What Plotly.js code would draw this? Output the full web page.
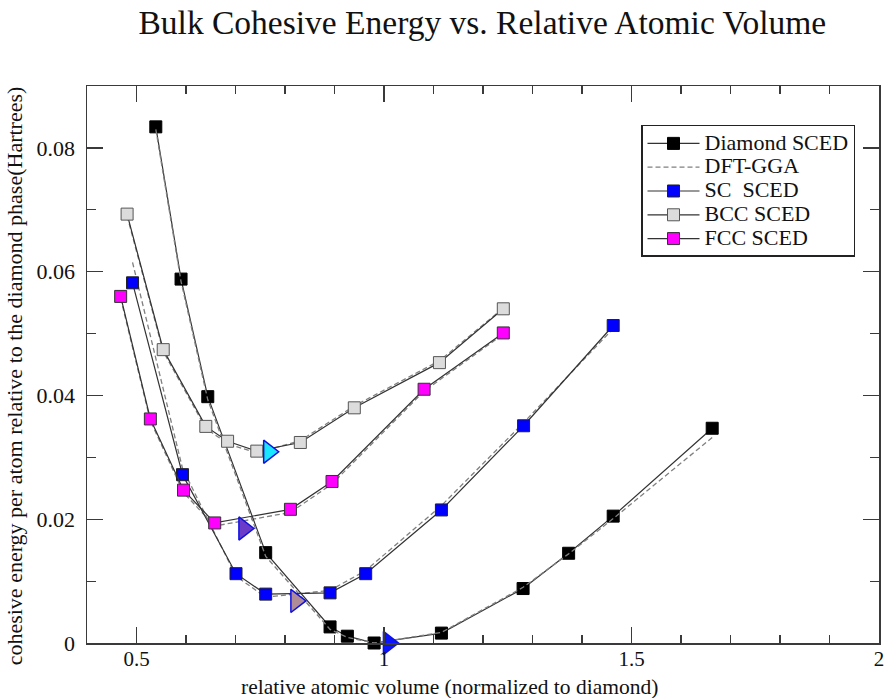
<!DOCTYPE html>
<html>
<head>
<meta charset="utf-8">
<script src="https://cdn.plot.ly/plotly-3.0.1.min.js"></script>
<style>html,body{margin:0;padding:0;background:#fff;}#chart{width:885px;height:698px;}</style>
</head>
<body>
<div id="chart"></div>
<script>
// ---- data ----
const diamondX = [0.539, 0.590, 0.644, 0.761, 0.891, 0.926, 0.980, 1.116, 1.281, 1.373, 1.463, 1.663];
const diamondY = [0.0834, 0.0588, 0.0398, 0.0146, 0.0026, 0.0011, 0.0000, 0.0016, 0.0088, 0.0145, 0.0205, 0.0347];
const diamondDftY = [0.0830, 0.0584, 0.0393, 0.0140, 0.0022, 0.0009, 0.0000, 0.0017, 0.0090, 0.0144, 0.0201, 0.0332];

const scX = [0.492, 0.593, 0.701, 0.761, 0.891, 0.963, 1.116, 1.282, 1.463];
const scY = [0.0582, 0.0272, 0.0112, 0.0079, 0.0081, 0.0112, 0.0215, 0.0351, 0.0513];
const scDftY = [0.0615, 0.0282, 0.0108, 0.0074, 0.0085, 0.0117, 0.0222, 0.0356, 0.0508];

const bccX = [0.481, 0.554, 0.640, 0.684, 0.743, 0.831, 0.940, 1.112, 1.241];
const bccY = [0.0693, 0.0474, 0.0350, 0.0326, 0.0310, 0.0324, 0.0380, 0.0453, 0.0540];
const bccDftY = [0.0690, 0.0471, 0.0347, 0.0322, 0.0307, 0.0327, 0.0383, 0.0456, 0.0541];

const fccX = [0.468, 0.528, 0.595, 0.658, 0.811, 0.895, 1.081, 1.241];
const fccY = [0.0560, 0.0362, 0.0247, 0.0194, 0.0216, 0.0261, 0.0410, 0.0501];
const fccDftY = [0.0557, 0.0359, 0.0243, 0.0189, 0.0211, 0.0257, 0.0407, 0.0499];

// minimum markers (triangles)
const minX = [0.767, 0.717, 0.822, 1.009];
const minY = [0.0309, 0.0185, 0.0068, 0.0000];
const minColors = ['#19e6ff', '#6a3cc8', '#b08c98', '#0a14ff'];

const xTicks = [0.5, 1, 1.5, 2];
const xTickText = ['0.5', '1', '1.5', '2'];
const yTicks = [0, 0.02, 0.04, 0.06, 0.08];
const yTickText = ['0', '0.02', '0.04', '0.06', '0.08'];

const SERIF = '"Liberation Serif", "Times New Roman", serif';
const lineCol = '#333333';
const dashCol = '#808080';

function lg(t) { return '<span style="font-size:22px">' + t + '</span>'; }

function sced(name, x, y, fill, border, legend) {
  return {
    type: 'scatter', mode: 'lines+markers', name: lg(name), x: x, y: y,
    line: {color: lineCol, width: 1.2},
    marker: {symbol: 'square', size: 12, color: fill, line: {color: border, width: 1}},
    showlegend: legend, cliponaxis: false
  };
}
function dft(x, y, legend) {
  return {
    type: 'scatter', mode: 'lines', name: lg('DFT-GGA'), x: x, y: y,
    line: {color: dashCol, width: 1.3, dash: '5px,3px'},
    showlegend: legend, cliponaxis: false
  };
}

const traces = [
  dft(scX, scDftY, false),
  dft(bccX, bccDftY, false),
  dft(fccX, fccDftY, false),
  sced('Diamond SCED', diamondX, diamondY, '#000000', '#000000', true),
  dft(diamondX, diamondDftY, true),
  sced('SC&nbsp; SCED', scX, scY, '#0000ff', '#222222', true),
  sced('BCC SCED', bccX, bccY, '#dcdcdc', '#555555', true),
  sced('FCC SCED', fccX, fccY, '#ff00ff', '#333333', true),
  {
    type: 'scatter', mode: 'markers', x: minX, y: minY, showlegend: false, cliponaxis: false,
    marker: {symbol: 'triangle-right', size: 20, color: minColors, line: {color: '#1010e0', width: 1.5}}
  }
];

const axisCommon = {
  showline: true, linecolor: '#3a3a3a', linewidth: 1.5, mirror: 'allticks',
  ticks: 'inside', ticklen: 16, tickwidth: 1.3, tickcolor: '#3a3a3a',
  showgrid: false, zeroline: false,
  tickfont: {family: SERIF, size: 22, color: '#111111'}
};

const layout = {
  width: 885, height: 698,
  paper_bgcolor: '#ffffff', plot_bgcolor: '#ffffff',
  margin: {l: 87, r: 6, t: 86, b: 55},
  title: {
    text: 'Bulk Cohesive Energy vs. Relative Atomic Volume',
    font: {family: SERIF, size: 33.5, color: '#111111'},
    x: 0.545, xanchor: 'center', y: 0.968, yanchor: 'middle'
  },
  xaxis: Object.assign({}, axisCommon, {
    range: [0.4, 2.0], tickvals: xTicks, ticktext: xTickText,
    tickfont: {family: SERIF, size: 21, color: '#111111'},
    ticklabelstandoff: -4,
    minor: {dtick: 0.1, tick0: 0.4, ticks: 'inside', ticklen: 8, tickwidth: 1.2, tickcolor: '#3a3a3a', showgrid: false}
  }),
  yaxis: Object.assign({}, axisCommon, {
    range: [0, 0.09], tickvals: yTicks, ticktext: yTickText,
    ticklabelstandoff: 6,
    minor: {dtick: 0.01, tick0: 0, ticks: 'inside', ticklen: 9, tickwidth: 1.2, tickcolor: '#3a3a3a', showgrid: false}
  }),
  annotations: [
    {text: 'relative atomic volume (normalized to diamond)', xref: 'paper', yref: 'paper',
     x: 0.458, y: -0.0795, xanchor: 'center', yanchor: 'middle', showarrow: false,
     font: {family: SERIF, size: 21.5, color: '#111111'}},
    {text: 'cohesive energy per atom relative to the diamond phase(Hartrees)', xref: 'paper', yref: 'paper',
     x: -0.092, y: 0.479, xanchor: 'center', yanchor: 'middle', textangle: -90, showarrow: false,
     font: {family: SERIF, size: 22, color: '#111111'}}
  ],
  legend: {
    x: 0.6995, y: 0.93, xanchor: 'left', yanchor: 'top',
    bgcolor: '#ffffff', bordercolor: '#222222', borderwidth: 1.5,
    font: {family: SERIF, size: 16, color: '#111111'},
    tracegroupgap: 0, itemwidth: 52
  }
};

Plotly.newPlot('chart', traces, layout, {displayModeBar: false, staticPlot: true});
</script>
</body>
</html>
